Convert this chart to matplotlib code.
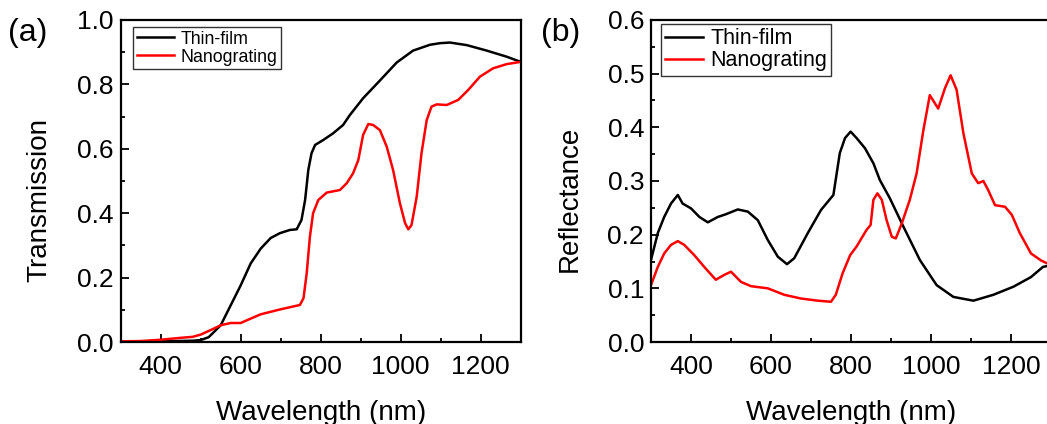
import matplotlib
matplotlib.use("Agg")
import matplotlib.pyplot as plt
from matplotlib.ticker import MultipleLocator, FormatStrFormatter

plt.rcParams['font.family'] = ['Liberation Sans', 'DejaVu Sans']

# ---- Data ----
trans_film_wl = [300, 400, 480, 500, 520, 550, 575, 600, 625, 650, 675, 698, 723, 740, 752, 761, 769,
                 777, 786, 806, 831, 856, 873, 906, 948, 990, 1031, 1073, 1098, 1123, 1165, 1215,
                 1265, 1300]
trans_film = [0.0, 0.002, 0.004, 0.006, 0.015, 0.052, 0.114, 0.176, 0.244, 0.29, 0.323, 0.338, 0.348,
              0.35, 0.379, 0.441, 0.534, 0.586, 0.612, 0.627, 0.648, 0.674, 0.705, 0.757, 0.812, 0.868,
              0.905, 0.923, 0.928, 0.93, 0.922, 0.905, 0.886, 0.87]

trans_grat_wl = [300, 350, 400, 450, 480, 500, 530, 550, 575, 600, 620, 650, 698, 748, 757, 765, 773,
                 781, 794, 815, 848, 865, 881, 894, 906, 919, 931, 948, 965, 981, 998, 1011, 1019, 1027,
                 1040, 1052, 1065, 1077, 1090, 1115, 1144, 1169, 1198, 1231, 1265, 1300]
trans_grat = [0.002, 0.003, 0.007, 0.013, 0.016, 0.023, 0.04, 0.052, 0.059, 0.059, 0.07, 0.086, 0.101,
              0.115, 0.136, 0.213, 0.327, 0.40, 0.441, 0.464, 0.472, 0.493, 0.524, 0.565, 0.643, 0.677,
              0.674, 0.658, 0.607, 0.534, 0.431, 0.369, 0.35, 0.363, 0.451, 0.586, 0.689, 0.731, 0.738,
              0.736, 0.752, 0.783, 0.824, 0.85, 0.863, 0.87]

refl_film_wl = [300, 317, 333, 350, 367, 379, 400, 421, 442, 467, 487, 517, 542, 567, 592, 617, 640,
                658, 692, 725, 756, 772, 785, 799, 814, 835, 856, 872, 897, 931, 972, 1014, 1056, 1106,
                1156, 1206, 1250, 1280, 1300]
refl_film = [0.153, 0.203, 0.233, 0.258, 0.274, 0.258, 0.249, 0.233, 0.223, 0.233, 0.238, 0.247, 0.243,
             0.227, 0.19, 0.159, 0.145, 0.156, 0.203, 0.246, 0.274, 0.352, 0.38, 0.392, 0.38, 0.361,
             0.333, 0.302, 0.268, 0.215, 0.153, 0.106, 0.084, 0.077, 0.088, 0.103, 0.121, 0.14, 0.143]

refl_grat_wl = [300, 317, 333, 350, 367, 383, 408, 433, 462, 483, 500, 525, 550, 592, 633, 675, 717, 750,
                762, 779, 798, 814, 839, 849, 856, 866, 877, 889, 902, 912, 927, 947, 964, 981, 997,
                1018, 1035, 1049, 1064, 1081, 1102, 1118, 1131, 1143, 1160, 1185, 1202, 1222, 1250,
                1275, 1300]
refl_grat = [0.106, 0.14, 0.165, 0.181, 0.188, 0.181, 0.162, 0.14, 0.116, 0.125, 0.131, 0.112, 0.104,
             0.1, 0.088, 0.081, 0.077, 0.075, 0.088, 0.128, 0.162, 0.178, 0.209, 0.218, 0.265, 0.277,
             0.265, 0.227, 0.196, 0.193, 0.221, 0.265, 0.314, 0.395, 0.46, 0.435, 0.473, 0.497, 0.47,
             0.389, 0.314, 0.296, 0.3, 0.283, 0.255, 0.252, 0.237, 0.203, 0.165, 0.152, 0.143]

series_labels = ["Thin-film", "Nanograting"]
x_ticks = [400, 600, 800, 1000, 1200]

W, H = 1047, 424
fig = plt.figure(figsize=(W / 100, H / 100), dpi=100)

def px_axes(x0, x1, y0, y1):
    return fig.add_axes([x0 / W, 1 - y1 / H, (x1 - x0) / W, (y1 - y0) / H])

axA = px_axes(120.7, 520.7, 20, 342)
axB = px_axes(651, 1051, 20, 342)

def style(ax, ylim, ymaj, ymin, ylabel, ylab_y):
    ax.set_xlim(300, 1300)
    ax.set_ylim(*ylim)
    ax.set_xticks(x_ticks)
    ax.xaxis.set_minor_locator(MultipleLocator(100))
    ax.yaxis.set_major_locator(MultipleLocator(ymaj))
    ax.yaxis.set_minor_locator(MultipleLocator(ymin))
    ax.yaxis.set_major_formatter(FormatStrFormatter('%.1f'))
    ax.tick_params(which='both', direction='in', top=False, right=False, labelsize=19, width=1.3)
    ax.tick_params(axis='x', which='major', length=6, pad=9)
    ax.tick_params(axis='y', which='major', length=6, pad=5)
    ax.tick_params(which='minor', length=3)
    for s in ax.spines.values():
        s.set_linewidth(1.6)
    ax.set_xlabel("Wavelength (nm)", fontsize=20)
    ax.set_ylabel(ylabel, fontsize=20)
    ax.xaxis.set_label_coords(0.5, -0.18)
    ax.yaxis.set_label_coords(-0.17, ylab_y)

axA.plot(trans_film_wl, trans_film, color='black', lw=1.8, label=series_labels[0])
axA.plot(trans_grat_wl, trans_grat, color='red', lw=1.8, label=series_labels[1])
style(axA, (0, 1.0), 0.2, 0.1, "Transmission", 0.4425)
legA = axA.legend(loc='upper left', fontsize=12.8, frameon=True, fancybox=False, edgecolor='black',
                  handlelength=2.1, handletextpad=0.35, borderpad=0.2, labelspacing=0.05,
                  bbox_to_anchor=(0.031, 0.978), borderaxespad=0)
legA.get_frame().set_linewidth(1.0)

axB.plot(refl_film_wl, refl_film, color='black', lw=1.8, label=series_labels[0])
axB.plot(refl_grat_wl, refl_grat, color='red', lw=1.8, label=series_labels[1])
style(axB, (0, 0.6), 0.1, 0.05, "Reflectance", 0.446)
legB = axB.legend(loc='upper left', fontsize=15.5, frameon=True, fancybox=False, edgecolor='black',
                  handlelength=1.75, handletextpad=0.33, borderpad=0.2, labelspacing=0.05,
                  bbox_to_anchor=(0.025, 0.9876), borderaxespad=0)
legB.get_frame().set_linewidth(1.0)

fig.text(8 / W, 1 - 33 / H, "(a)", fontsize=23, va='center', ha='left')
fig.text(541 / W, 1 - 33 / H, "(b)", fontsize=23, va='center', ha='left')

fig.savefig("out.png", dpi=100)
